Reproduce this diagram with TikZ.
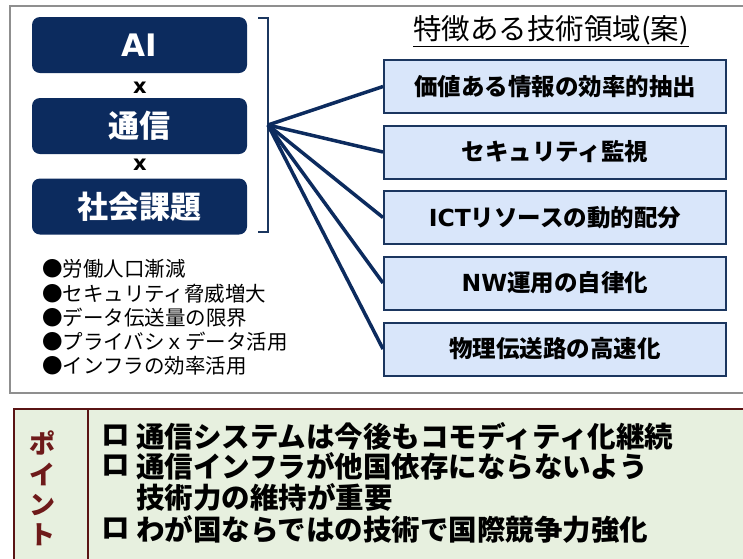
\documentclass[tikz,border=0pt]{standalone}
\usepackage{fontspec}
\setmainfont{DejaVu Sans}
\newfontfamily\jp{Noto Sans CJK JP}
\newfontfamily\lat{DejaVu Sans}
\definecolor{navy}{HTML}{0C2B5E}
\definecolor{boxfill}{HTML}{D9E6FA}
\definecolor{boxline}{HTML}{1B365F}
\definecolor{greenfill}{HTML}{E7F0DF}
\definecolor{redline}{HTML}{5A1414}
\definecolor{pointred}{HTML}{6E1A1A}
\definecolor{frame}{HTML}{8F8F8F}
\tikzset{
  darkbox/.style={fill=navy, draw=none, rounded corners=8pt, minimum width=215pt, minimum height=56pt, inner sep=0pt, text=white, font=\jp\bfseries\fontsize{31}{34}\selectfont},
  techbox/.style={fill=boxfill, draw=boxline, line width=2pt, minimum width=342pt, minimum height=53pt, inner sep=0pt, font=\jp\bfseries\fontsize{23.5}{26}\selectfont},
  xlab/.style={inner sep=0pt, font=\lat\bfseries\fontsize{21}{24}\selectfont},
  conn/.style={draw=navy, line width=3.5pt},
  bracketline/.style={draw=boxline, line width=1.5pt},
  bullet/.style={anchor=west, inner sep=0pt, font=\jp\fontsize{20.5}{24}\selectfont},
  pointtext/.style={anchor=west, inner sep=0pt, font=\jp\bfseries\fontsize{28.5}{32}\selectfont},
  pointlab/.style={inner sep=0pt, text=pointred, font=\jp\bfseries\fontsize{26}{30}\selectfont},
}
\begin{document}
\begin{tikzpicture}[x=1pt,y=-1pt]
\useasboundingbox (0,0) rectangle (743,558);
\clip (0,0) rectangle (743,558);
\fill[white] (0,0) rectangle (743,558);
% outer frame
\draw[frame, line width=2pt] (10,6) rectangle (770,393);
% left dark boxes
\node[darkbox] (ai) at (139.5,45) {\lat\bfseries AI};
\node[darkbox] (tsushin) at (139.5,126) {通信};
\node[darkbox] (shakai) at (139.5,206.5) {社会課題};
\node[xlab] (x1) at (140,88) {x};
\node[xlab] (x2) at (140,165) {x};
% bracket
\coordinate (bt0) at (258,18);
\coordinate (bt) at (268,18);
\coordinate (bb) at (268,232);
\coordinate (bb0) at (258,232);
\coordinate (hub) at (268,125);
\draw[bracketline] (bt0) -- (bt) -- (bb) -- (bb0);
% title
\node[inner sep=0pt, font=\jp\fontsize{28.5}{32}\selectfont] (title) at (551,31) {\underline{特徴ある技術領域(案)}};
% tech boxes
\node[techbox] (t1) at (555,86.5) {価値ある情報の効率的抽出};
\node[techbox] (t2) at (555,152) {セキュリティ監視};
\node[techbox] (t3) at (555,217.5) {{\lat\bfseries ICT}リソースの動的配分};
\node[techbox] (t4) at (555,283) {{\lat\bfseries NW}運用の自律化};
\node[techbox] (t5) at (555,349) {物理伝送路の高速化};
\foreach \t in {t1,t2,t3,t4,t5} {\draw[conn] (hub) -- (\t.west);}
% bullets
\node[bullet] (b1) at (42,269) {●労働人口漸減};
\node[bullet] (b2) at (42,293.5) {●セキュリティ脅威増大};
\node[bullet] (b3) at (42,318) {●データ伝送量の限界};
\node[bullet] (b4) at (42,342) {●プライバシｘデータ活用};
\node[bullet] (b5) at (42,366) {●インフラの効率活用};
% point box
\draw[redline, fill=greenfill, line width=1.5pt] (14,409) rectangle (770,580);
\draw[redline, line width=1.2pt] (88,409) -- (88,580);
\node[pointlab] (pa) at (42,443) {ポ};
\node[pointlab] (pb) at (42,474) {イ};
\node[pointlab] (pc) at (42,505) {ン};
\node[pointlab] (pd) at (42,535) {ト};
\node[pointtext] (q1) at (101,436) {ロ};
\node[pointtext] (p1) at (136,436) {通信システムは今後もコモディティ化継続};
\node[pointtext] (q2) at (101,466) {ロ};
\node[pointtext] (p2) at (136,466) {通信インフラが他国依存にならないよう};
\node[pointtext] (p3) at (136,497) {技術力の維持が重要};
\node[pointtext] (q4) at (101,529) {ロ};
\node[pointtext] (p4) at (136,529) {わが国ならではの技術で国際競争力強化};
\end{tikzpicture}
\end{document}
